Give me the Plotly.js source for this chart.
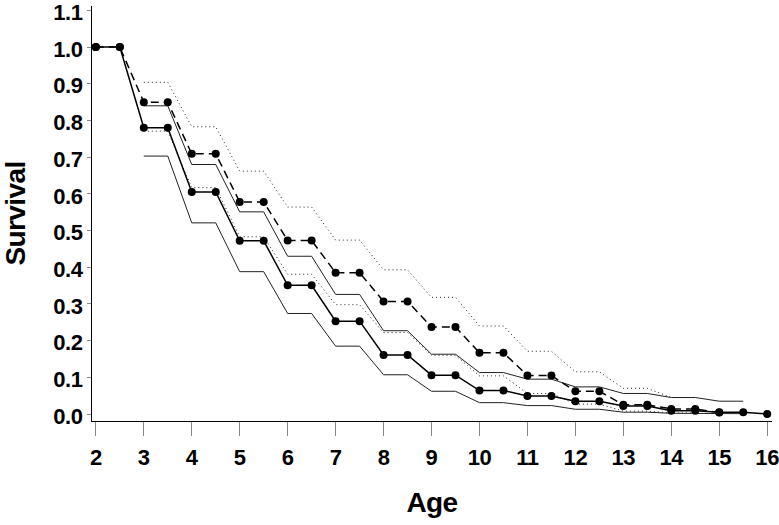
<!DOCTYPE html>
<html>
<head>
<meta charset="utf-8">
<script src="https://cdn.plot.ly/plotly-3.0.1.min.js"></script>
<style>
html,body{margin:0;padding:0;background:#fff;}
#chart{width:779px;height:525px;}
#chart .xtitle, #chart .ytitle{letter-spacing:-0.6px;}
#chart .xtick text, #chart .ytick text{letter-spacing:-0.4px;}
</style>
</head>
<body>
<div id="chart"></div>
<script>
// Survival estimates (markers) for two groups
const ageA = [2,2.5,3,3.5,4,4.5,5,5.5,6,6.5,7,7.5,8,8.5,9,9.5,10,10.5,11,11.5,12,12.5,13,13.5,14,14.5,15];
const survA = [1.0,1.0,0.850,0.850,0.709,0.709,0.578,0.578,0.473,0.473,0.385,0.385,0.307,0.307,0.237,0.237,0.167,0.167,0.105,0.105,0.062,0.062,0.025,0.025,0.014,0.014,0.004];

const ageB = [2,2.5,3,3.5,4,4.5,5,5.5,6,6.5,7,7.5,8,8.5,9,9.5,10,10.5,11,11.5,12,12.5,13,13.5,14,14.5,15,15.5,16];
const survB = [1.0,1.0,0.780,0.780,0.605,0.605,0.472,0.472,0.351,0.351,0.253,0.253,0.161,0.161,0.106,0.106,0.064,0.064,0.049,0.049,0.035,0.035,0.022,0.022,0.009,0.009,0.005,0.005,0.0];

// Confidence bands
const ageCIA = [3,3.5,4,4.5,5,5.5,6,6.5,7,7.5,8,8.5,9,9.5,10,10.5,11,11.5,12,12.5,13,13.5,14,14.5];
const upperA = [0.904,0.904,0.783,0.783,0.662,0.662,0.564,0.564,0.474,0.474,0.393,0.393,0.318,0.318,0.240,0.240,0.171,0.171,0.115,0.115,0.070,0.070,0.045,0.045];
const lowerA = [0.771,0.771,0.617,0.617,0.483,0.483,0.381,0.381,0.298,0.298,0.222,0.222,0.160,0.160,0.104,0.104,0.056,0.056,0.027,0.027,0.008,0.008,0.003,0.003];

const ageCIB = [3,3.5,4,4.5,5,5.5,6,6.5,7,7.5,8,8.5,9,9.5,10,10.5,11,11.5,12,12.5,13,13.5,14,14.5,15,15.5];
const upperB = [0.840,0.840,0.680,0.680,0.551,0.551,0.430,0.430,0.326,0.326,0.227,0.227,0.163,0.163,0.113,0.113,0.095,0.095,0.074,0.074,0.056,0.056,0.045,0.045,0.035,0.035];
const lowerB = [0.703,0.703,0.521,0.521,0.388,0.388,0.274,0.274,0.185,0.185,0.107,0.107,0.062,0.062,0.031,0.031,0.023,0.023,0.013,0.013,0.005,0.005,0.002,0.002,0.001,0.001];

const xTicks = [2,3,4,5,6,7,8,9,10,11,12,13,14,15,16];
const yTicks = [0,0.1,0.2,0.3,0.4,0.5,0.6,0.7,0.8,0.9,1.0,1.1];

const ciDotted = {color:'#222', width:1, dash:'1px,3px'};
const ciSolid = {color:'#222', width:1};

const traces = [
  {x:ageCIA, y:upperA, mode:'lines', line:ciDotted},
  {x:ageCIA, y:lowerA, mode:'lines', line:ciDotted},
  {x:ageCIB, y:upperB, mode:'lines', line:ciSolid},
  {x:ageCIB, y:lowerB, mode:'lines', line:ciSolid},
  {x:ageA, y:survA, mode:'lines+markers', line:{color:'#000', width:1.5, dash:'8px,5px'}, marker:{color:'#000', size:8}},
  {x:ageB, y:survB, mode:'lines+markers', line:{color:'#000', width:1.5}, marker:{color:'#000', size:8}}
];

const tickFont = {family:'Liberation Sans, Arial, sans-serif', size:22, color:'#000', weight:'bold'};
const titleFont = {family:'Liberation Sans, Arial, sans-serif', size:28, color:'#000', weight:'bold'};

const layout = {
  width:779, height:525,
  margin:{l:92, r:7, t:6, b:104},
  paper_bgcolor:'#fff', plot_bgcolor:'#fff',
  showlegend:false, hovermode:false,
  xaxis:{
    range:[1.92,16.1], tickvals:xTicks, ticktext:xTicks.map(String),
    showgrid:false, zeroline:false, showline:true, linecolor:'#000', linewidth:1,
    ticks:'outside', ticklen:14, tickcolor:'#888', tickwidth:1,
    tickfont:tickFont, ticklabelstandoff:3, ticklabeloverflow:'allow',
    title:{text:'Age', font:titleFont, standoff:22}
  },
  yaxis:{
    range:[-0.019,1.112], tickvals:yTicks, ticktext:yTicks.map(v=>v.toFixed(1)),
    showgrid:false, zeroline:false, showline:true, linecolor:'#000', linewidth:1,
    ticks:'outside', ticklen:4, tickcolor:'#888', tickwidth:1,
    tickfont:tickFont, ticklabeloverflow:'allow', ticklabelshift:2,
    title:{text:'Survival', font:titleFont, standoff:20}
  }
};

Plotly.newPlot('chart', traces, layout, {displayModeBar:false, staticPlot:true});
</script>
</body>
</html>
